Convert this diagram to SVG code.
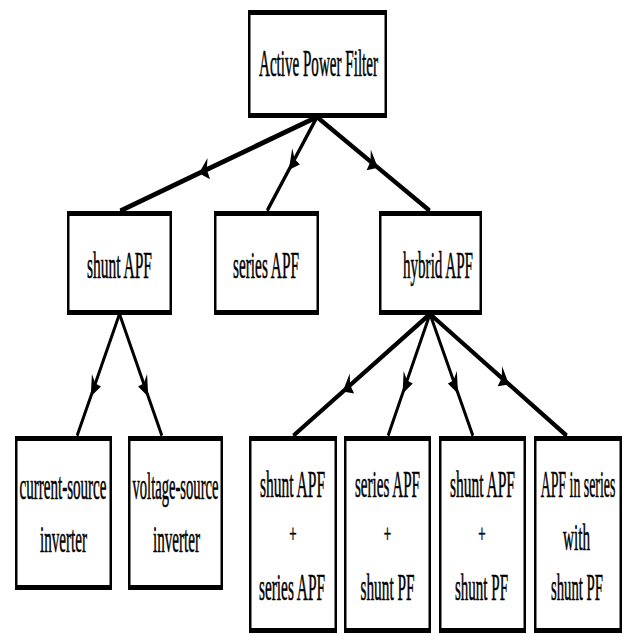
<svg xmlns="http://www.w3.org/2000/svg" width="627" height="634" viewBox="0 0 627 634">
<style>
.box{fill:#fff;stroke:#000;stroke-width:2.5}
.t{font-family:"Liberation Serif","Times New Roman",serif;font-size:19px;fill:#000;stroke:#000;stroke-width:0.3;text-anchor:middle}
.p{font-family:"Liberation Serif","Times New Roman",serif;font-size:13px;fill:#000;stroke:#000;stroke-width:0.3;text-anchor:middle}
.c{fill:none;stroke:#000;stroke-width:2.6;marker-mid:url(#arr)}
</style>
<defs>
<marker id="arr" markerUnits="userSpaceOnUse" viewBox="-11 -6 13 12" markerWidth="13" markerHeight="12" refX="0" refY="0" orient="auto" overflow="visible">
<path d="M1,0 L-9,-5.5 L-7,0 L-9,5.5 Z" fill="#000"/>
</marker>
</defs>
<rect width="627" height="634" fill="#fff"/>
<g transform="scale(1,2)">
<g id="connectors">
<path class="c" d="M317,58.5 L200,86.4 L120,105.5"/>
<path class="c" d="M317,58.5 L289.5,84.35 L267,105.5"/>
<path class="c" d="M317,58.5 L377,83.46 L430,105.5"/>
<path class="c" d="M119.5,157 L91.3,197.5 L77,218"/>
<path class="c" d="M119.5,157 L147.7,197.5 L162,218"/>
<path class="c" d="M430,157 L343.7,195.4 L293,218"/>
<path class="c" d="M430,157 L403.1,196 L388,218"/>
<path class="c" d="M430,157 L457.5,196 L473,218"/>
<path class="c" d="M430,157 L508.1,191.8 L567,218"/>
</g>
<g id="apf">
<rect class="box" x="249.25" y="6.25" width="136.5" height="51.5"/>
<text class="t" x="318.5" y="38" textLength="119" lengthAdjust="spacingAndGlyphs">Active Power Filter</text>
</g>
<g id="shunt">
<rect class="box" x="68.25" y="106.75" width="102.5" height="49.5"/>
<text class="t" x="119.5" y="139" textLength="65" lengthAdjust="spacingAndGlyphs">shunt APF</text>
</g>
<g id="series">
<rect class="box" x="215.25" y="106.75" width="102.5" height="49.5"/>
<text class="t" x="266" y="139" textLength="66" lengthAdjust="spacingAndGlyphs">series APF</text>
</g>
<g id="hybrid">
<rect class="box" x="380.25" y="106.75" width="100.5" height="49.5"/>
<text class="t" x="438" y="139" textLength="70" lengthAdjust="spacingAndGlyphs">hybrid APF</text>
</g>
<g id="csi">
<rect class="box" x="16.25" y="219.25" width="94.5" height="74.5"/>
<text class="t" x="63" y="249.75" textLength="87" lengthAdjust="spacingAndGlyphs">current-source</text>
<text class="t" x="63.5" y="276.25" textLength="47" lengthAdjust="spacingAndGlyphs">inverter</text>
</g>
<g id="vsi">
<rect class="box" x="129.25" y="219.25" width="92.5" height="74.5"/>
<text class="t" x="175.5" y="249.75" textLength="86" lengthAdjust="spacingAndGlyphs">voltage-source</text>
<text class="t" x="176.5" y="276.25" textLength="47" lengthAdjust="spacingAndGlyphs">inverter</text>
</g>
<g id="h1">
<rect class="box" x="250.25" y="219.25" width="85.5" height="96"/>
<text class="t" x="292.5" y="248.5" textLength="65" lengthAdjust="spacingAndGlyphs">shunt APF</text>
<text class="p" x="293" y="270.8">+</text>
<text class="t" x="292" y="300" textLength="66" lengthAdjust="spacingAndGlyphs">series APF</text>
</g>
<g id="h2">
<rect class="box" x="345.25" y="219.25" width="84.5" height="96"/>
<text class="t" x="387.5" y="248.5" textLength="65" lengthAdjust="spacingAndGlyphs">series APF</text>
<text class="p" x="387.5" y="270.8">+</text>
<text class="t" x="387.5" y="300" textLength="54" lengthAdjust="spacingAndGlyphs">shunt PF</text>
</g>
<g id="h3">
<rect class="box" x="440.25" y="219.25" width="84.5" height="96"/>
<text class="t" x="482.5" y="248.5" textLength="65" lengthAdjust="spacingAndGlyphs">shunt APF</text>
<text class="p" x="482" y="270.8">+</text>
<text class="t" x="481.5" y="300" textLength="53" lengthAdjust="spacingAndGlyphs">shunt PF</text>
</g>
<g id="h4">
<rect class="box" x="535.25" y="219.25" width="85.5" height="96"/>
<text class="t" transform="translate(578,248.5) scale(0.73,1)" x="0" y="0">APF in series</text>
<text class="t" x="576.5" y="275" textLength="27" lengthAdjust="spacingAndGlyphs">with</text>
<text class="t" x="577" y="300" textLength="52" lengthAdjust="spacingAndGlyphs">shunt PF</text>
</g>
</g>
</svg>
